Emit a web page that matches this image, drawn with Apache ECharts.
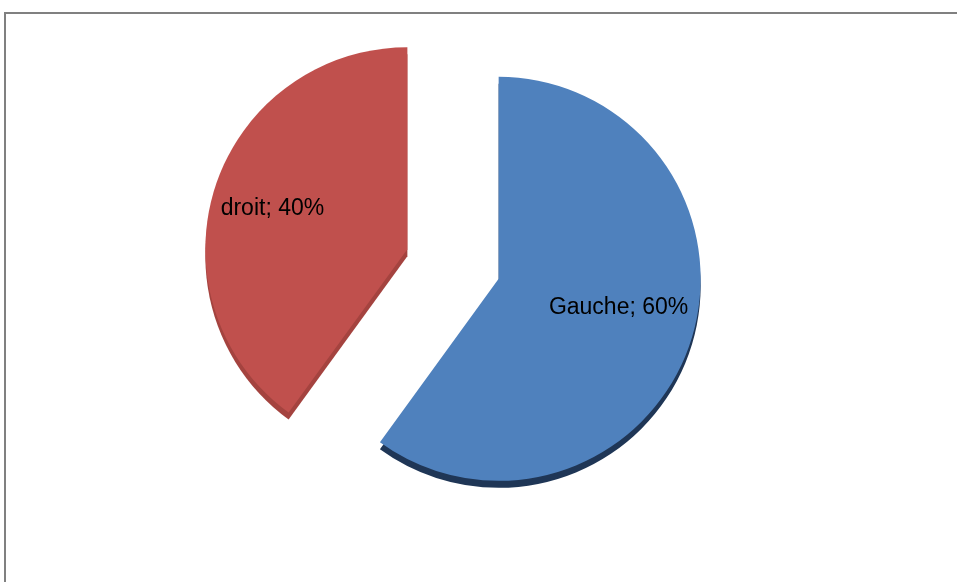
<!DOCTYPE html>
<html>
<head>
<meta charset="utf-8">
<script src="https://cdn.jsdelivr.net/npm/echarts@6/dist/echarts.min.js"></script>
<style>
html,body{margin:0;padding:0;background:#fff;}
#chart{width:957px;height:582px;}
</style>
</head>
<body>
<div id="chart"></div>
<script>
const categories = ['Gauche', 'droit'];
const values = [60, 40];
const faceColors = ['#4F81BD', '#C0504D'];
const sideColors = ['#1F3656', '#A4433F'];
const labelShift = [[21, -3], [-36, -8]];

const chart = echarts.init(document.getElementById('chart'), null, {renderer: 'canvas'});

function buildData(colors) {
  return categories.map(function (name, i) {
    return {
      name: name,
      value: values[i],
      selected: true,
      itemStyle: {color: colors[i]}
    };
  });
}

const option = {
  animation: false,
  backgroundColor: '#ffffff',
  graphic: [{
    type: 'rect',
    shape: {x: 5, y: 13, width: 1200, height: 1200},
    style: {fill: 'none', stroke: '#808080', lineWidth: 2},
    silent: true,
    z: 100
  }],
  series: [
    {
      type: 'pie',
      name: 'side',
      center: [453, 271],
      radius: 202,
      startAngle: 90,
      clockwise: true,
      selectedMode: 'multiple',
      selectedOffset: 48,
      silent: true,
      z: 1,
      label: {show: false},
      labelLine: {show: false},
      emphasis: {disabled: true},
      data: buildData(sideColors)
    },
    {
      type: 'pie',
      name: 'face',
      center: [453, 264],
      radius: 202,
      startAngle: 90,
      clockwise: true,
      selectedMode: 'multiple',
      selectedOffset: 48,
      silent: true,
      z: 2,
      emphasis: {disabled: true},
      label: {
        show: true,
        position: 'inside',
        formatter: '{b}; {d}%',
        color: '#000000',
        fontFamily: 'Liberation Sans',
        fontSize: 23
      },
      labelLine: {show: false},
      labelLayout: function (params) {
        const s = labelShift[params.dataIndex] || [0, 0];
        return {dx: s[0], dy: s[1]};
      },
      data: buildData(faceColors)
    }
  ]
};
chart.setOption(option);
</script>
</body>
</html>
